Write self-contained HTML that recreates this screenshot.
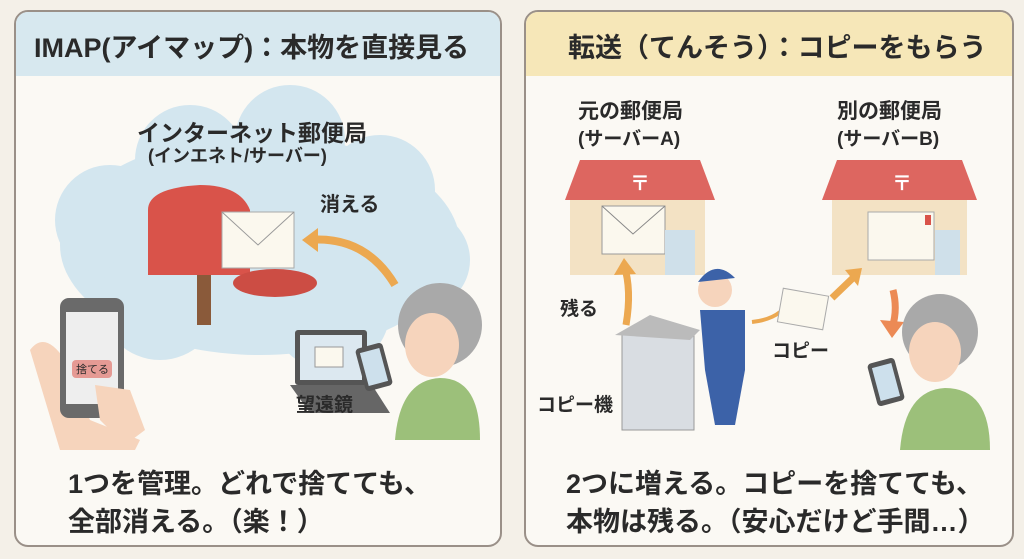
<!DOCTYPE html>
<html><head><meta charset="utf-8"><style>
body{margin:0;width:1024px;height:559px;background:#f4f0e8;position:relative;overflow:hidden;font-family:"Liberation Sans","Noto Sans CJK JP",sans-serif;color:#2a2a2a}
.p{position:absolute;top:10px;height:533px;border:2px solid #9a9088;border-radius:14px;background:#fbf9f4;overflow:hidden}
.t{position:absolute;white-space:nowrap;font-weight:bold}
</style></head><body>
<div class="p" style="left:14px;width:484px">
 <div style="position:absolute;left:0;top:0;width:100%;height:64px;background:#d7e8ef"></div>
</div>
<div class="p" style="left:524px;width:486px">
 <div style="position:absolute;left:0;top:0;width:100%;height:64px;background:#f6e7b8"></div>
</div>
<svg width="1024" height="559" style="position:absolute;left:0;top:0">
 <g fill="#d3e6ef">
  <ellipse cx="260" cy="245" rx="200" ry="110"/>
  <circle cx="190" cy="160" r="55"/><circle cx="290" cy="140" r="55"/><circle cx="380" cy="190" r="55"/>
  <circle cx="110" cy="220" r="55"/><circle cx="160" cy="300" r="60"/><circle cx="330" cy="310" r="60"/><circle cx="420" cy="260" r="50"/>
 </g>
 <rect x="197" y="260" width="14" height="65" fill="#8a5a3a"/>
 <path d="M148 275 V210 Q148 188 200 185 Q240 185 250 210 V275 Z" fill="#d9534a"/>
 <rect x="222" y="212" width="72" height="56" fill="#fbf8ee" stroke="#aaa"/>
 <path d="M222 212 L258 245 L294 212" fill="none" stroke="#999"/>
 <ellipse cx="275" cy="283" rx="42" ry="14" fill="#cc4d44"/>
 <path d="M395 285 Q365 235 308 240" fill="none" stroke="#eca850" stroke-width="8"/>
 <path d="M302 240 L318 228 L318 252 Z" fill="#eca850"/>
 <path d="M30 350 Q45 330 65 360 L90 420 L140 440 L135 450 L60 450 Z" fill="#f6d4bc"/>
 <rect x="60" y="298" width="64" height="120" rx="9" fill="#6a6a6a"/>
 <rect x="66" y="312" width="52" height="92" fill="#eeeeee"/>
 <rect x="72" y="360" width="40" height="18" rx="4" fill="#e59a94"/>
 <path d="M95 385 L100 420 L125 445 L145 430 L130 390 Z" fill="#f6d4bc"/>
 <rect x="295" y="330" width="72" height="55" rx="3" fill="#555"/>
 <rect x="300" y="335" width="62" height="45" fill="#dce8f0"/>
 <rect x="315" y="347" width="28" height="20" fill="#fbf8ee" stroke="#999"/>
 <path d="M290 385 L372 385 L390 413 L310 413 Z" fill="#666"/>
 <circle cx="440" cy="325" r="42" fill="#a9a9a9"/>
 <ellipse cx="432" cy="345" rx="27" ry="32" fill="#f6d4bc"/>
 <path d="M395 440 Q400 380 440 378 Q480 378 480 440 Z" fill="#9cc07a"/>
 <rect x="360" y="345" width="28" height="44" rx="4" fill="#555" transform="rotate(-15 374 367)"/>
 <rect x="364" y="350" width="20" height="34" fill="#cde0ec" transform="rotate(-15 374 367)"/>
 <g>
  <rect x="570" y="195" width="135" height="80" fill="#f3e2c4"/>
  <path d="M565 200 L580 160 L700 160 L715 200 Z" fill="#dd6660"/>
  <rect x="602" y="206" width="63" height="48" fill="#fbf8ee" stroke="#999"/>
  <path d="M602 206 L633 234 L665 206" fill="none" stroke="#888"/>
  <rect x="665" y="230" width="30" height="45" fill="#cfe0ea"/>
  <text x="630" y="190" font-size="20" fill="#fff" font-weight="bold">〒</text>
 </g>
 <g>
  <rect x="832" y="195" width="135" height="80" fill="#f3e2c4"/>
  <path d="M822 200 L837 160 L962 160 L977 200 Z" fill="#dd6660"/>
  <rect x="868" y="212" width="66" height="48" fill="#fbf8ee" stroke="#aaa"/>
  <rect x="925" y="215" width="6" height="10" fill="#d9534a"/>
  <rect x="935" y="230" width="25" height="45" fill="#cfe0ea"/>
  <text x="892" y="190" font-size="20" fill="#fff" font-weight="bold">〒</text>
 </g>
 <path d="M626 325 Q632 290 624 265" fill="none" stroke="#eca850" stroke-width="7"/>
 <path d="M614 275 L624 258 L636 274 Z" fill="#eca850"/>
 <path d="M832 298 L855 276" stroke="#eca850" stroke-width="7"/>
 <path d="M845 270 L862 268 L858 286 Z" fill="#eca850"/>
 <path d="M893 290 Q898 310 892 328" fill="none" stroke="#ec8a55" stroke-width="7"/>
 <path d="M880 320 L892 338 L904 322 Z" fill="#ec8a55"/>
 <path d="M752 322 Q770 320 780 312" fill="none" stroke="#eca850" stroke-width="4"/>
 <rect x="780" y="292" width="46" height="34" fill="#fbf8ee" stroke="#aaa" transform="rotate(10 803 309)"/>
 <rect x="622" y="335" width="72" height="95" fill="#d9dde2" stroke="#999"/>
 <path d="M615 335 L650 315 L700 330 L690 340 Z" fill="#bbb"/>
 <circle cx="715" cy="290" r="17" fill="#f6d4bc"/>
 <path d="M698 282 Q715 258 735 278 Z" fill="#3c62a8"/>
 <path d="M700 310 L745 310 L745 370 L735 425 L715 425 L705 370 Z" fill="#3c62a8"/>
 <circle cx="940" cy="332" r="38" fill="#a9a9a9"/>
 <ellipse cx="935" cy="352" rx="26" ry="30" fill="#f6d4bc"/>
 <path d="M900 450 Q905 390 945 388 Q990 388 990 450 Z" fill="#9cc07a"/>
 <rect x="872" y="360" width="28" height="44" rx="4" fill="#555" transform="rotate(-15 886 382)"/>
 <rect x="876" y="365" width="20" height="34" fill="#cde0ec" transform="rotate(-15 886 382)"/>
</svg>
<div class="t" style="left:34px;top:26px;font-size:27px">IMAP(アイマップ)：本物を直接見る</div>
<div class="t" style="left:568px;top:26px;font-size:27px">転送（てんそう）：コピーをもらう</div>
<div class="t" style="left:137px;top:114px;font-size:23px">インターネット郵便局</div>
<div class="t" style="left:148px;top:142px;font-size:18px">(インエネト/サーバー)</div>
<div class="t" style="left:320px;top:188px;font-size:20px">消える</div>
<div class="t" style="left:76px;top:361px;font-size:11px;font-weight:normal">捨てる</div>
<div class="t" style="left:296px;top:390px;font-size:19px">望遠鏡</div>
<div class="t" style="left:578px;top:95px;font-size:21px">元の郵便局</div>
<div class="t" style="left:578px;top:124px;font-size:19px">(サーバーA)</div>
<div class="t" style="left:837px;top:95px;font-size:21px">別の郵便局</div>
<div class="t" style="left:837px;top:124px;font-size:19px">(サーバーB)</div>
<div class="t" style="left:560px;top:294px;font-size:19px">残る</div>
<div class="t" style="left:772px;top:336px;font-size:19px">コピー</div>
<div class="t" style="left:537px;top:390px;font-size:19px">コピー機</div>
<div class="t" style="left:68px;top:462px;font-size:27px">1つを管理。どれで捨てても、</div>
<div class="t" style="left:68px;top:500px;font-size:27px">全部消える。（楽！）</div>
<div class="t" style="left:566px;top:462px;font-size:27px">2つに増える。コピーを捨てても、</div>
<div class="t" style="left:566px;top:500px;font-size:27px">本物は残る。（安心だけど手間…）</div>
</body></html>
